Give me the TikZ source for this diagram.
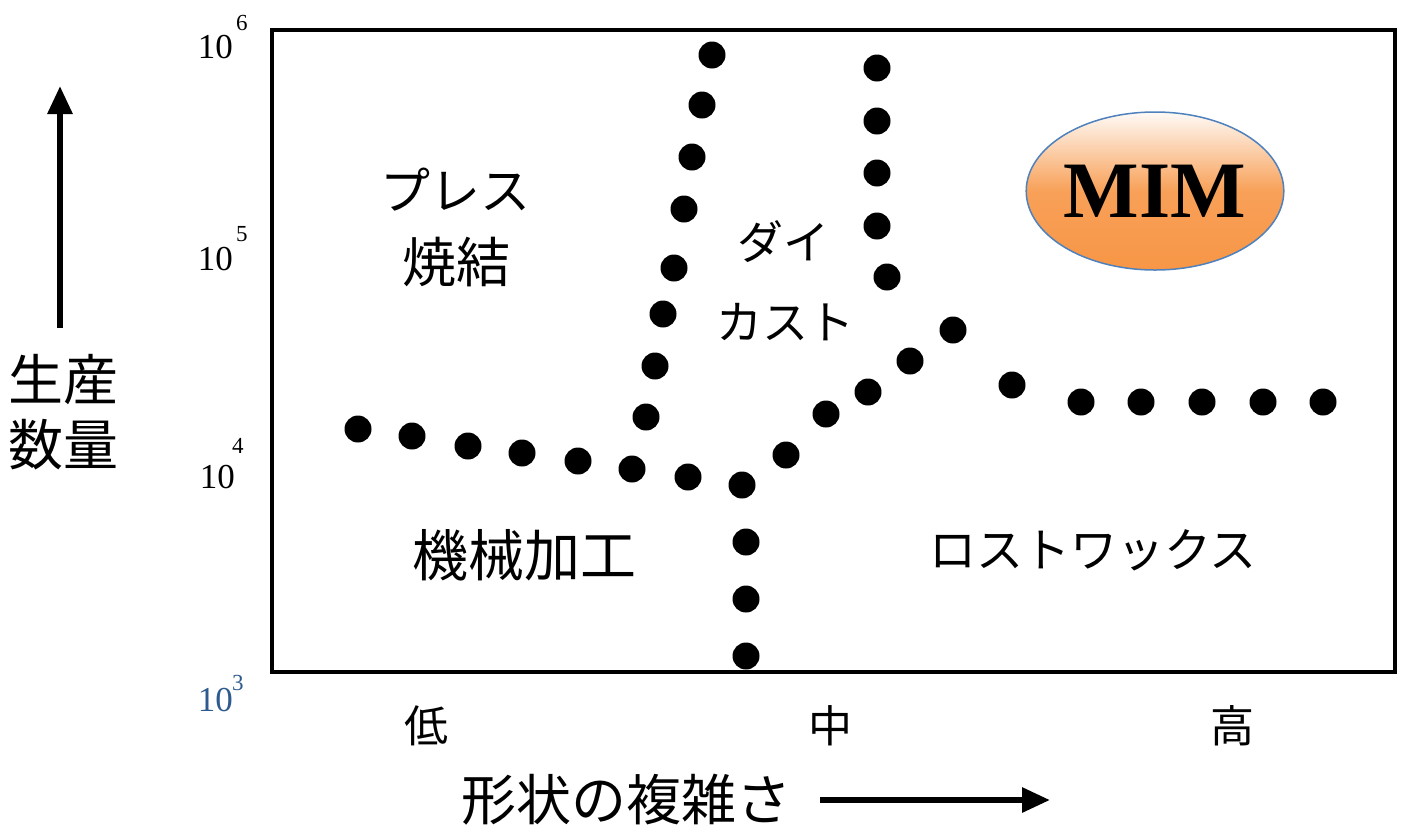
\documentclass[tikz,border=0pt]{standalone}
\usepackage{fontspec}
\setmainfont{Liberation Serif}
\newfontfamily\jp{Noto Sans CJK JP}
\usetikzlibrary{shapes.geometric,arrows.meta}
\definecolor{mimorange}{HTML}{F79646}
\definecolor{mimblue}{HTML}{4F81BD}
\definecolor{numblue}{HTML}{2E5A8E}
\newcommand{\jps}[1]{\jp\fontsize{#1}{#1}\selectfont}
\tikzset{
  dot/.style={circle,fill=black,inner sep=0pt,minimum size=27pt},
  jplabel/.style={font=\jps{46},inner sep=0pt,align=center},
  ticklabel/.style={font=\jps{44},inner sep=0pt},
  numlabel/.style={font=\fontsize{35}{36}\selectfont,inner sep=0pt,anchor=base east},
  suplabel/.style={font=\fontsize{23}{24}\selectfont,inner sep=0pt,anchor=base west},
  bigarrow/.style={line width=6pt,-{Triangle[length=28pt,width=24pt]}}
}
\begin{document}
\begin{tikzpicture}[x=1pt,y=-1pt]
\useasboundingbox (0,0) rectangle (1412,831);
\draw[line width=4pt] (272,30) rectangle (1395,672);
% numbers
\node[numlabel] (n6) at (233,58) {10};
\node[suplabel] (s6) at (236,30) {6};
\node[numlabel] (n5) at (233,270) {10};
\node[suplabel] (s5) at (236,241) {5};
\node[numlabel] (n4) at (235,488) {10};
\node[suplabel] (s4) at (232,453) {4};
\node[numlabel,text=numblue] (n3) at (233,711) {10};
\node[suplabel,text=numblue] (s3) at (232,690) {3};
% dots
\foreach \x/\y [count=\i] in {358/429,412/436,468/446,522/453,578/461,632/469,688/477,742/485,746/542,746/599,746/656}
  \node[dot] (a\i) at (\x,\y) {};
\foreach \x/\y [count=\i] in {646/417,655/366,663/314,674/268,684/209,692/157,702/105,712/55}
  \node[dot] (b\i) at (\x,\y) {};
\foreach \x/\y [count=\i] in {786/455,826/414,868/392,910/361,953/330,1012/385,1081/402,1141/402,1202/402,1263/402,1323/402}
  \node[dot] (c\i) at (\x,\y) {};
\foreach \x/\y [count=\i] in {877/68,877/121,877/173,877/226,887/277}
  \node[dot] (d\i) at (\x,\y) {};
% region labels
\node[jplabel,font=\jps{50}] (press) at (455,190) {プレス};
\node[jplabel,font=\jps{54}] (sint) at (456,262) {焼結};
\node[jplabel] (dai) at (783,242) {ダイ};
\node[jplabel] (cast) at (785,322) {カスト};
\node[jplabel,font=\jps{56}] (kikai) at (524,555) {機械加工};
\node[jplabel,font=\jps{47}] (lost) at (1093,550) {ロストワックス};
% MIM
\node[ellipse,draw=mimblue,line width=1.5pt,minimum width=254pt,minimum height=158pt,
  top color=mimorange!5,bottom color=mimorange,middle color=mimorange!90,shading angle=0,
  font=\bfseries\fontsize{80}{80}\selectfont,inner sep=0pt] (mim) at (1155,191) {MIM};
% tick labels
\node[ticklabel] (lo) at (426,726) {低};
\node[ticklabel] (mid) at (830,726) {中};
\node[ticklabel] (hi) at (1232,726) {高};
% axis titles
\node[jplabel,font=\jps{55}] (xt) at (626,800) {形状の複雑さ};
\coordinate (xa1) at (820,800);
\coordinate (xa2) at (1050,800);
\draw[bigarrow] (xa1) -- (xa2);
\node[jplabel,font=\jp\fontsize{55}{65}\selectfont] (yt) at (64,412) {生産\\数量};
\coordinate (ya1) at (60,328);
\coordinate (ya2) at (60,86);
\draw[bigarrow] (ya1) -- (ya2);
\end{tikzpicture}
\end{document}
